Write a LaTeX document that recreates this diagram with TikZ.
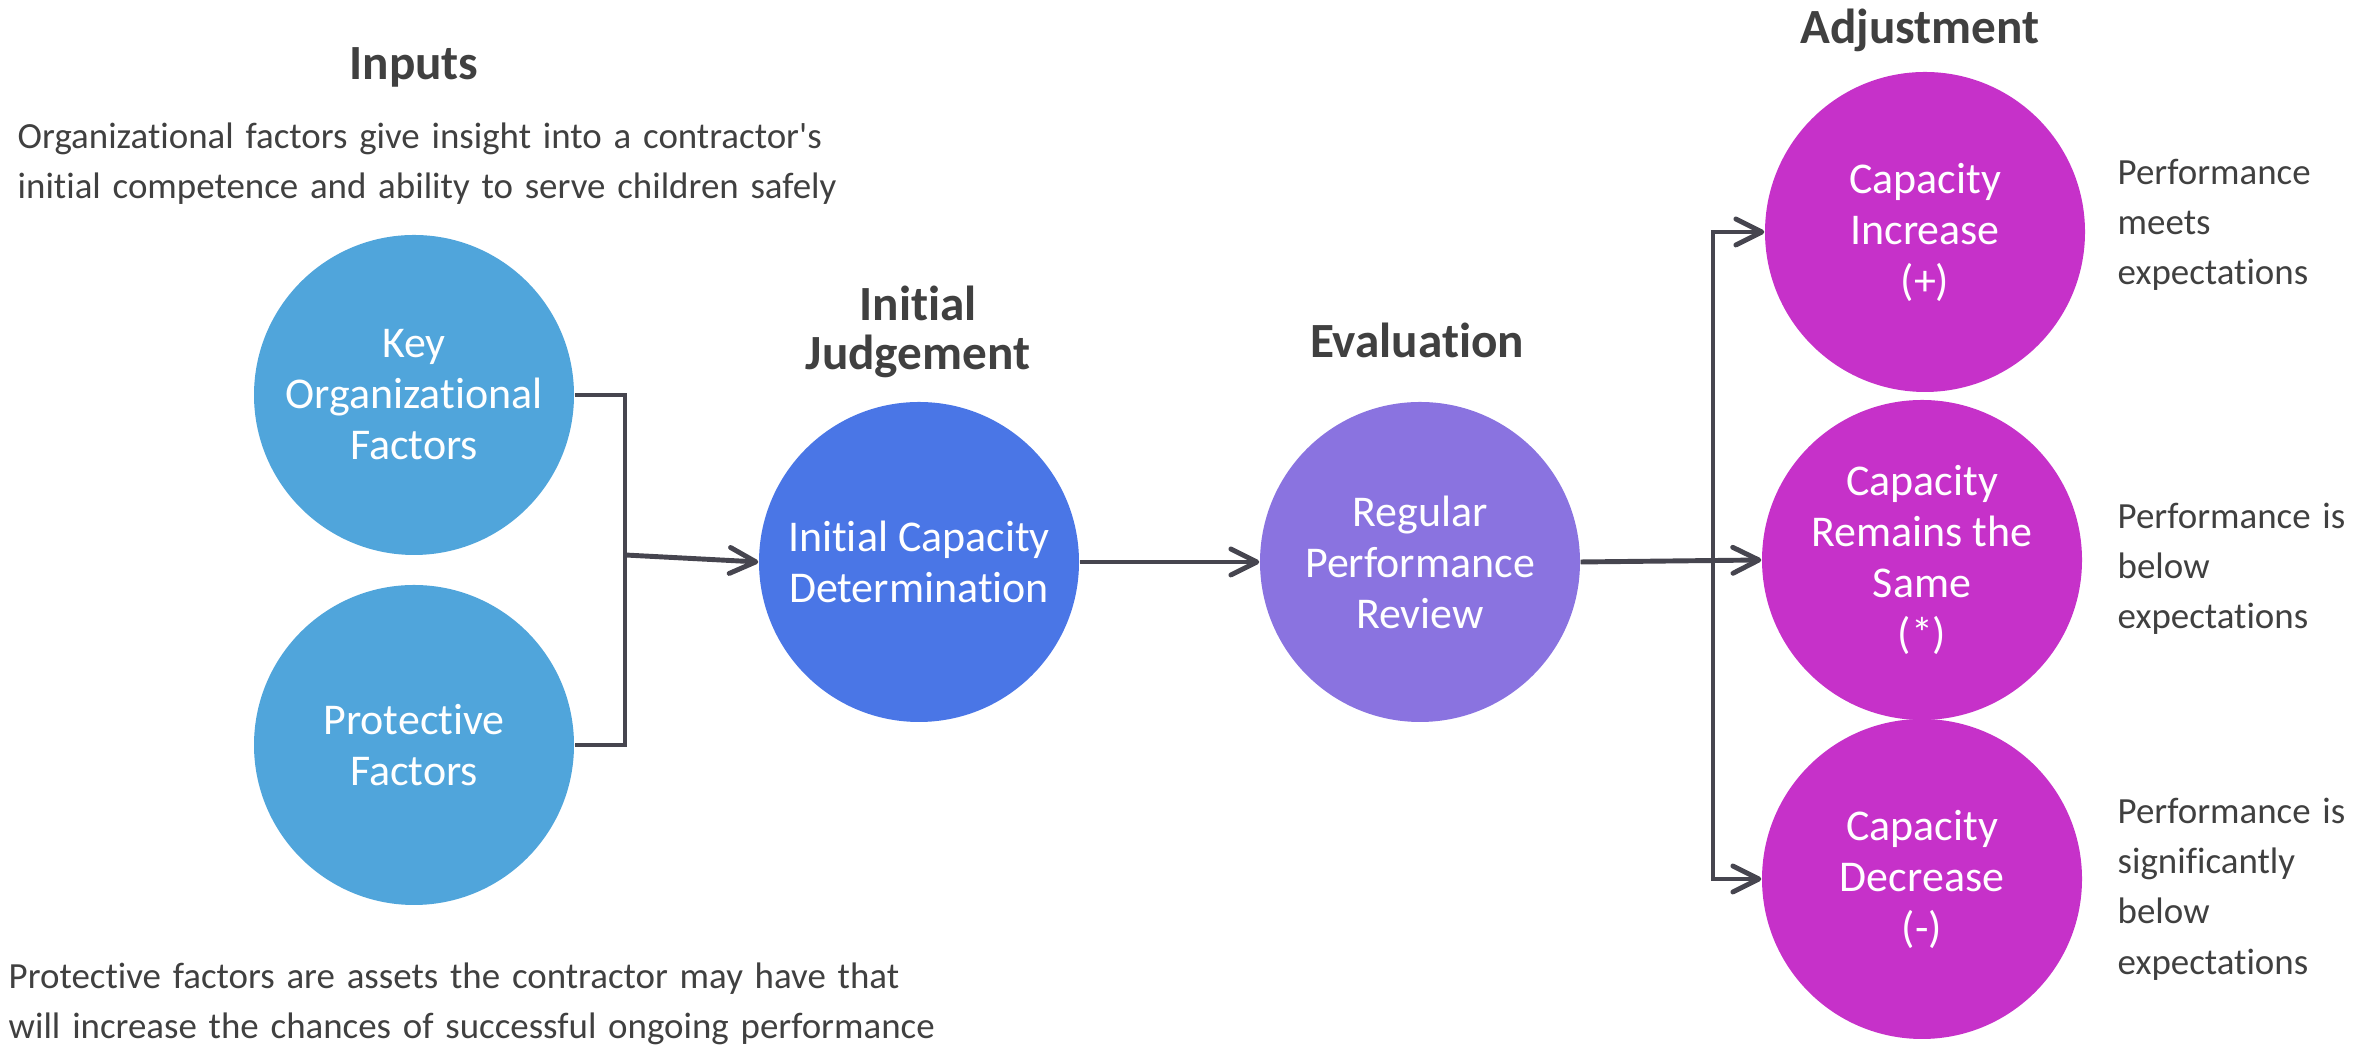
\documentclass[tikz,border=0pt]{standalone}
\usepackage{fontspec}
\setmainfont{Carlito}[Ligatures={TeX,NoCommon}]
\usetikzlibrary{arrows.meta}

\definecolor{inputblue}{HTML}{50A5DB}
\definecolor{judgeblue}{HTML}{4A76E6}
\definecolor{evalpurple}{HTML}{8A73E0}
\definecolor{adjmagenta}{HTML}{C631C9}
\definecolor{linegray}{HTML}{46454F}
\definecolor{textgray}{HTML}{404040}

\newcommand{\notefont}{\fontsize{10.5}{14.3}\selectfont\spaceskip=0.32em\relax}

\tikzset{
  >={Straight Barb[length=2.6mm, width=2.6mm, round]},
  stage/.style={circle, minimum size=3.2cm, inner sep=0pt, text=white, align=center,
    font=\fontsize{12.5}{14.5}\selectfont},
  heading/.style={inner sep=0pt, text=textgray, align=center,
    font=\fontsize{14}{14}\selectfont\bfseries},
  note/.style={inner sep=0pt, text=textgray, align=left, font=\notefont},
  link/.style={draw=linegray, line width=1.4pt},
}

\begin{document}
\begin{tikzpicture}
\useasboundingbox (0,0) rectangle (23.76,10.49);

% column headings
\node[heading, anchor=base] (inputsHead) at (4.14,9.69) {Inputs};
\node[heading, anchor=north] (judgeHead) at (9.18,7.64) {Initial\\Judgement};
\node[heading, anchor=base] (evalHead) at (14.17,6.91) {Evaluation};
\node[heading, anchor=base] (adjHead) at (19.20,10.05) {Adjustment};

% stages
\node[stage, fill=inputblue] (key) at (4.14,6.54) {Key\\Organizational\\Factors};
\node[stage, fill=inputblue] (protective) at (4.14,3.04) {Protective\\Factors};
\node[stage, fill=judgeblue] (initial) at (9.19,4.87) {Initial Capacity\\Determination};
\node[stage, fill=evalpurple] (regular) at (14.20,4.87) {Regular\\Performance\\Review};
\node[stage, fill=adjmagenta] (increase) at (19.25,8.17) {Capacity\\Increase\\(+)};
\node[stage, fill=adjmagenta] (same) at (19.22,4.89) {Capacity\\Remains the\\Same\\(*)};
\node[stage, fill=adjmagenta] (decrease) at (19.22,1.70) {Capacity\\Decrease\\(-)};

% explanations
\node[note, anchor=north west] (orgText) at (0.17,9.27)
  {Organizational factors give insight into a contractor\textquotesingle s\\initial competence and ability to serve children safely};
\node[note, anchor=north west] (protText) at (0.08,0.87)
  {Protective factors are assets the contractor may have that\\will increase the chances of successful ongoing performance};
\node[note, anchor=west] (meetsText) at (21.17,8.24) {Performance\\meets\\expectations};
\node[note, anchor=west] (belowText) at (21.17,4.80) {Performance is\\below\\expectations};
\node[note, anchor=west] (sigText) at (21.17,1.60) {Performance is\\significantly\\below\\expectations};

% connectors
\coordinate (join) at (6.25,4.94);
\coordinate (fork) at (17.13,4.87);
\draw[link] (key.east) -| (join) |- (protective.east);
\draw[link, ->] (join) -- (initial.west);
\draw[link, ->] (initial.east) -- (regular.west);
\draw[link, ->] (regular.east) -- (same.west);
\draw[link, <->] (increase.west) -| (fork) |- (decrease.west);
\end{tikzpicture}
\end{document}
